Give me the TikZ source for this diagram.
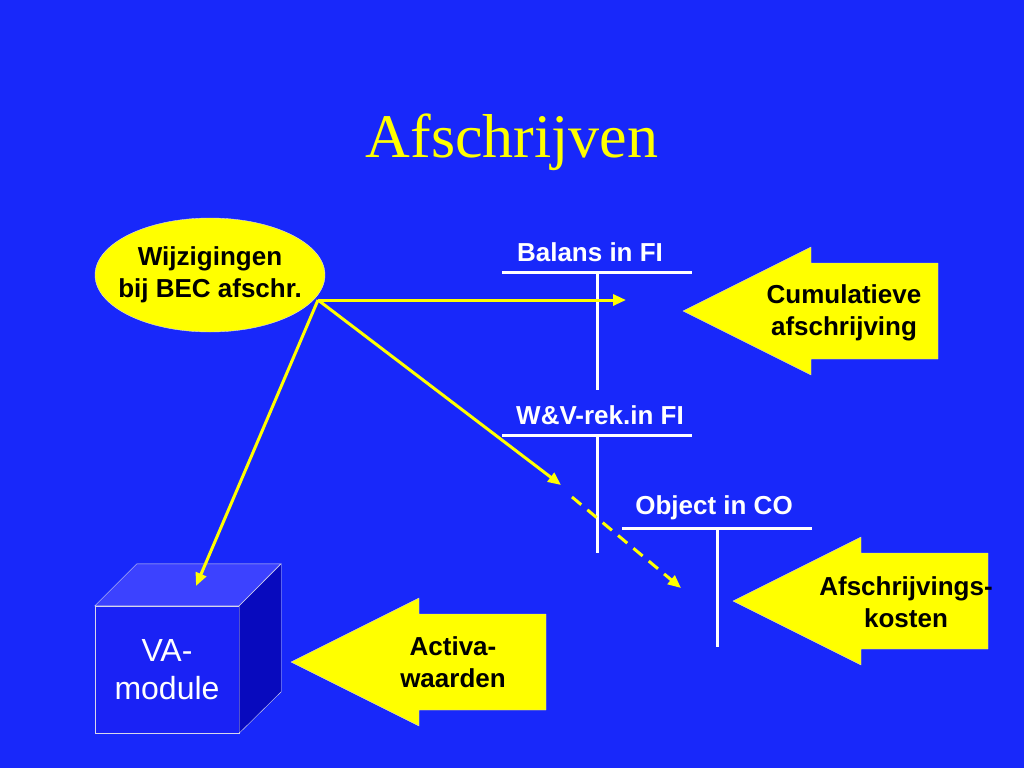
\documentclass[tikz,border=0pt]{standalone}
\usepackage{fontspec}
\setmainfont{Liberation Serif}
\setsansfont{Liberation Sans}
\usetikzlibrary{shapes.geometric, arrows.meta, positioning, calc}
\definecolor{slideblue}{RGB}{24,40,250}
\definecolor{slideyellow}{RGB}{255,255,0}
\definecolor{cubefront}{RGB}{26,34,245}
\definecolor{cubetop}{RGB}{60,66,255}
\definecolor{cubeside}{RGB}{8,10,190}
\definecolor{rimgray}{RGB}{215,215,235}

\begin{document}
\begin{tikzpicture}[
    x=1pt, y=-1pt,
    title/.style={text=slideyellow, font=\fontsize{62}{70}\selectfont},
    bubble/.style={ellipse, draw=rimgray, thin, fill=slideyellow, minimum width=230, minimum height=114, align=center, inner xsep=-14pt, inner ysep=0pt, font=\sffamily\bfseries\fontsize{26}{32}\selectfont},
    acclabel/.style={text=white, font=\sffamily\bfseries\fontsize{26}{32}\selectfont},
    tline/.style={draw=white, line width=3pt},
    blockarrow/.style={draw=rimgray, thin, fill=slideyellow},
    arrowtext/.style={align=center, font=\sffamily\bfseries\fontsize{26}{32}\selectfont},
    flow/.style={draw=slideyellow, line width=3pt, -{Triangle[length=13pt, width=11pt]}},
    dashflow/.style={flow, dash pattern=on 12pt off 8pt},
    cube/.style={draw=rimgray, thin, fill=cubefront, minimum width=144, minimum height=127, align=center, text=white, font=\sffamily\fontsize{32}{38}\selectfont},
]
    \useasboundingbox (0,0) rectangle (1024,768);
    \fill[slideblue] (0,0) rectangle (1024,768);

    \node[title] (ttl) at (512,142) {Afschrijven};

    % source bubble
    \node[bubble] (wijz) at (210,275) {Wijzigingen\\bij BEC afschr.};

    % T-accounts
    \node[acclabel] (bal) at (590,252) {Balans in FI};
    \draw[tline] (502,272) -- (692,272) (597,272) -- (597,390);
    \node[acclabel] (wv) at (600,415) {W\&V-rek.in FI};
    \draw[tline] (502,435) -- (692,435) (597,435) -- (597,553);
    \node[acclabel] (obj) at (714,508) {Object in CO};
    \draw[tline] (622,528) -- (812,528) (717,528) -- (717,647);

    % VA-module cube
    \node[cube] (va) at (167,669.5) {VA-\\module};
    \draw[draw=rimgray, thin, fill=cubetop] (va.north west) -- ++(42,-42) -- ++(144,0) -- (va.north east) -- cycle;
    \draw[draw=rimgray, thin, fill=cubeside] (va.north east) -- ++(42,-42) -- ++(0,128) -- (va.south east) -- cycle;

    % block arrows
    \foreach \tx/\ty in {683/311, 733/601, 291/662}
        \draw[blockarrow] (\tx,\ty) -- ++(128,-64) -- ++(0,16) -- ++(127,0) -- ++(0,96) -- ++(-127,0) -- ++(0,16) -- cycle;
    \node[arrowtext] (cum) at (844,313) {Cumulatieve\\afschrijving};
    \node[arrowtext] (kost) at (906,602) {Afschrijvings-\\kosten};
    \node[arrowtext] (act) at (453,662) {Activa-\\waarden};

    % flows
    \coordinate (src) at (318,300);
    \coordinate (balin) at (626,300);
    \coordinate (wvin) at (561,485);
    \coordinate (vatop) at (196,586);
    \coordinate (dashstart) at (572,497);
    \coordinate (objin) at (681,588);
    \draw[flow] (src) -- (balin);
    \draw[flow] (src) -- (wvin);
    \draw[flow] (src) -- (vatop);
    \draw[dashflow] (dashstart) -- (objin);
\end{tikzpicture}
\end{document}
